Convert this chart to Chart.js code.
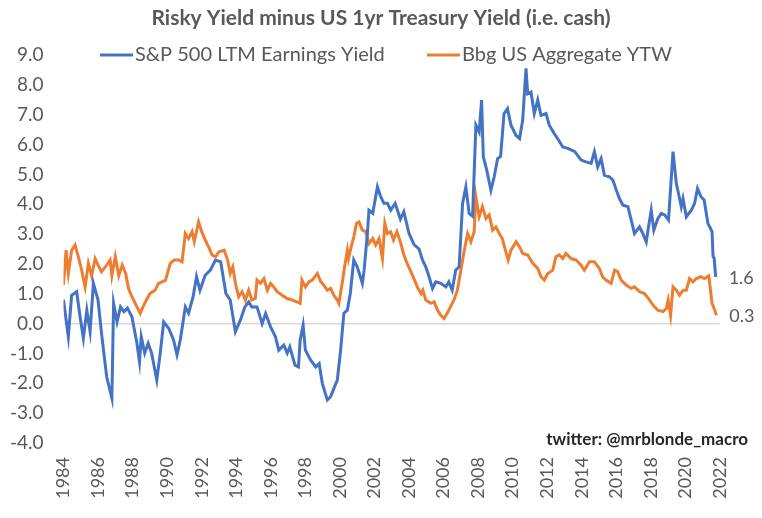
<!DOCTYPE html>
<html lang="en">
<head>
<meta charset="UTF-8">
<title>Risky Yield minus US 1yr Treasury Yield (i.e. cash)</title>
<script src="https://cdn.jsdelivr.net/npm/chart.js"></script>
<style>
  html, body { margin: 0; padding: 0; background: #ffffff; }
  #wrap { width: 762px; height: 518px; }
</style>
</head>
<body>
<div id="wrap"><canvas id="myChart" width="762" height="518"></canvas></div>
<script>
// ---- data ----
var chartTitle = 'Risky Yield minus US 1yr Treasury Yield (i.e. cash)';
var seriesNames = ['S&P 500 LTM Earnings Yield', 'Bbg US Aggregate YTW'];
var creditText = 'twitter: @mrblonde_macro';
var xTickYears = [1984, 1986, 1988, 1990, 1992, 1994, 1996, 1998, 2000, 2002,
                  2004, 2006, 2008, 2010, 2012, 2014, 2016, 2018, 2020, 2022];

// S&P 500 LTM earnings yield minus 1yr treasury (decimal year, value)
var spxDates = [
  1984.00, 1984.28, 1984.47, 1984.76, 1984.96, 1985.15, 1985.35, 1985.54, 1985.73, 1986.00,
  1986.20, 1986.50, 1986.80, 1986.90, 1987.10, 1987.30, 1987.50, 1987.70, 1987.96, 1988.25,
  1988.40, 1988.50, 1988.70, 1988.90, 1989.10, 1989.40, 1989.60, 1989.80, 1990.10, 1990.37,
  1990.57, 1990.76, 1991.05, 1991.24, 1991.50, 1991.70, 1991.90, 1992.20, 1992.50, 1992.80,
  1993.10, 1993.40, 1993.65, 1993.95, 1994.24, 1994.50, 1994.72, 1994.90, 1995.20, 1995.50,
  1995.70, 1995.98, 1996.27, 1996.46, 1996.75, 1996.95, 1997.10, 1997.40, 1997.60, 1997.70,
  1997.87, 1998.00, 1998.30, 1998.60, 1998.80, 1998.98, 1999.27, 1999.46, 1999.65, 1999.85,
  2000.04, 2000.23, 2000.43, 2000.60, 2000.80, 2001.00, 2001.30, 2001.40, 2001.59, 2001.68,
  2001.90, 2002.17, 2002.36, 2002.55, 2002.75, 2002.94, 2003.20, 2003.50, 2003.70, 2004.00,
  2004.29, 2004.58, 2004.78, 2004.97, 2005.16, 2005.36, 2005.55, 2005.84, 2006.13, 2006.30,
  2006.50, 2006.70, 2006.90, 2007.10, 2007.29, 2007.48, 2007.68, 2007.87, 2008.06, 2008.20,
  2008.30, 2008.50, 2008.74, 2008.93, 2009.13, 2009.30, 2009.50, 2009.70, 2009.90, 2010.19,
  2010.40, 2010.58, 2010.77, 2010.87, 2011.06, 2011.25, 2011.45, 2011.64, 2011.93, 2012.12,
  2012.40, 2012.60, 2012.90, 2013.19, 2013.60, 2013.96, 2014.25, 2014.54, 2014.73, 2014.92,
  2015.12, 2015.31, 2015.60, 2015.80, 2016.00, 2016.18, 2016.38, 2016.67, 2016.86, 2017.05,
  2017.34, 2017.53, 2017.73, 2017.86, 2018.02, 2018.17, 2018.40, 2018.60, 2018.80, 2019.02,
  2019.28, 2019.47, 2019.60, 2019.76, 2019.86, 2020.05, 2020.34, 2020.53, 2020.70, 2020.90,
  2021.08, 2021.30, 2021.54, 2021.60, 2021.66, 2021.75
];
var spxValues = [
  0.80, -0.44, 0.95, 1.07, 0.23, -0.49, 0.45, -0.27, 1.35, 0.79,
  -0.32, -1.78, -2.50, 0.68, 0.06, 0.56, 0.40, 0.52, 0.23, -0.66,
  -1.28, -0.44, -0.99, -0.66, -0.99, -1.89, -0.99, 0.06, -0.17, -0.55,
  -1.05, -0.55, 0.56, 0.35, 0.90, 1.57, 1.12, 1.62, 1.79, 2.13,
  2.07, 1.01, 0.79, -0.27, 0.12, 0.56, 0.73, 0.56, 0.56, 0.00,
  0.34, -0.10, -0.44, -0.89, -0.72, -0.99, -0.78, -1.39, -1.45, -0.55,
  -0.05, -0.89, -1.22, -1.45, -1.34, -2.00, -2.56, -2.45, -2.17, -1.89,
  -0.89, 0.35, 0.45, 1.01, 2.13, 1.90, 1.35, 1.79, 3.02, 3.80,
  3.70, 4.58, 4.25, 4.03, 4.03, 3.80, 4.03, 3.50, 3.75, 3.02,
  2.65, 2.50, 2.13, 1.90, 1.57, 1.18, 1.40, 1.35, 1.23, 1.40,
  1.12, 1.79, 1.90, 4.03, 4.58, 3.69, 3.60, 6.65, 6.42, 7.49,
  5.59, 5.14, 4.47, 4.92, 5.53, 5.60, 7.04, 7.20, 6.65, 6.31,
  6.20, 6.82, 8.55, 7.70, 7.76, 7.04, 7.49, 6.98, 7.04, 6.65,
  6.37, 6.20, 5.92, 5.87, 5.76, 5.48, 5.42, 5.37, 5.76, 5.25,
  5.53, 4.97, 4.92, 4.81, 4.47, 4.19, 3.97, 3.92, 3.47, 3.02,
  3.24, 3.02, 2.74, 3.24, 3.80, 3.13, 3.52, 3.69, 3.64, 3.47,
  5.76, 4.70, 4.36, 3.91, 4.19, 3.58, 3.80, 4.03, 4.53, 4.25,
  4.14, 3.36, 3.08, 2.24, 2.20, 1.57
];

// Bbg US Aggregate YTW minus 1yr treasury (decimal year, value)
var aggDates = [
  1984.00, 1984.15, 1984.28, 1984.47, 1984.67, 1984.86, 1985.05, 1985.25, 1985.44, 1985.63,
  1985.83, 1986.00, 1986.20, 1986.50, 1986.70, 1986.80, 1987.00, 1987.20, 1987.40, 1987.60,
  1987.76, 1987.96, 1988.25, 1988.44, 1988.60, 1988.80, 1989.00, 1989.30, 1989.50, 1989.70,
  1989.90, 1990.18, 1990.40, 1990.66, 1990.86, 1991.05, 1991.24, 1991.44, 1991.57, 1991.82,
  1992.00, 1992.20, 1992.40, 1992.60, 1992.80, 1993.00, 1993.30, 1993.50, 1993.65, 1993.80,
  1993.95, 1994.14, 1994.34, 1994.53, 1994.72, 1994.90, 1995.10, 1995.20, 1995.40, 1995.60,
  1995.80, 1995.98, 1996.17, 1996.37, 1996.66, 1996.95, 1997.24, 1997.50, 1997.70, 1997.80,
  1998.00, 1998.20, 1998.40, 1998.69, 1998.90, 1999.07, 1999.27, 1999.46, 1999.65, 1999.85,
  1999.94, 2000.13, 2000.27, 2000.43, 2000.50, 2000.65, 2000.80, 2000.96, 2001.10, 2001.30,
  2001.50, 2001.68, 2001.90, 2002.07, 2002.27, 2002.46, 2002.60, 2002.75, 2002.94, 2003.10,
  2003.30, 2003.50, 2003.70, 2003.90, 2004.10, 2004.29, 2004.50, 2004.70, 2004.80, 2004.97,
  2005.26, 2005.45, 2005.65, 2005.84, 2006.03, 2006.20, 2006.40, 2006.60, 2006.80, 2007.00,
  2007.20, 2007.39, 2007.58, 2007.77, 2007.87, 2008.06, 2008.25, 2008.45, 2008.64, 2008.84,
  2009.03, 2009.22, 2009.40, 2009.60, 2009.74, 2009.90, 2010.20, 2010.40, 2010.58, 2010.87,
  2011.16, 2011.45, 2011.64, 2011.83, 2012.03, 2012.32, 2012.50, 2012.70, 2012.90, 2013.08,
  2013.38, 2013.67, 2013.96, 2014.15, 2014.44, 2014.73, 2015.02, 2015.20, 2015.40, 2015.70,
  2015.90, 2016.08, 2016.28, 2016.57, 2016.86, 2017.05, 2017.34, 2017.63, 2017.86, 2018.12,
  2018.40, 2018.70, 2018.90, 2019.00, 2019.14, 2019.28, 2019.47, 2019.66, 2019.86, 2020.05,
  2020.24, 2020.44, 2020.63, 2020.88, 2021.10, 2021.35, 2021.54, 2021.66, 2021.79
];
var aggValues = [
  1.30, 2.46, 1.68, 2.46, 2.63, 2.24, 1.79, 1.23, 2.02, 1.60,
  2.18, 1.96, 1.74, 1.96, 2.13, 1.60, 2.24, 1.60, 1.96, 1.68,
  1.18, 0.90, 0.56, 0.34, 0.56, 0.79, 1.01, 1.12, 1.35, 1.40,
  1.45, 2.02, 2.13, 2.13, 2.07, 3.02, 2.85, 3.08, 2.74, 3.41,
  3.08, 2.80, 2.57, 2.30, 2.24, 2.41, 2.46, 2.13, 1.68, 1.90,
  1.35, 0.90, 1.07, 0.79, 1.12, 0.79, 0.84, 1.46, 1.35, 1.51,
  1.12, 1.35, 1.23, 1.07, 0.95, 0.84, 0.79, 0.73, 0.68, 1.46,
  1.23, 1.40, 1.46, 1.68, 1.40, 1.29, 1.12, 1.18, 0.95, 0.79,
  0.68, 1.35, 1.90, 2.46, 2.18, 2.57, 2.90, 3.36, 3.41, 3.13,
  3.08, 2.68, 2.85, 2.63, 2.85, 2.18, 3.36, 3.02, 3.08, 2.80,
  3.08, 2.74, 2.30, 2.00, 1.75, 1.50, 1.20, 1.00, 1.12, 0.79,
  0.68, 0.73, 0.45, 0.28, 0.17, 0.34, 0.56, 0.79, 1.12, 1.79,
  2.46, 3.02, 2.74, 3.08, 4.25, 3.58, 3.92, 3.52, 3.64, 3.13,
  3.24, 3.02, 2.85, 2.41, 2.13, 2.46, 2.74, 2.57, 2.35, 2.30,
  2.02, 1.85, 1.57, 1.46, 1.68, 1.79, 2.24, 2.30, 2.18, 2.35,
  2.18, 2.13, 1.96, 1.79, 2.07, 2.07, 1.85, 1.57, 1.46, 1.35,
  1.79, 1.74, 1.46, 1.29, 1.18, 1.23, 1.07, 1.01, 0.84, 0.62,
  0.45, 0.40, 0.51, 0.79, 0.28, 1.23, 1.12, 0.95, 1.12, 1.12,
  1.51, 1.40, 1.51, 1.57, 1.51, 1.60, 0.68, 0.51, 0.28
];

var seriesColors = ['#4472C4', '#ED7D31'];
var textColor = '#595959';
var fontFamily = 'Lato, "Open Sans", sans-serif';

function toPoints(dates, values) {
    var pts = [];
    for (var i = 0; i < dates.length; i++) {
        pts.push({ x: dates[i], y: values[i] });
    }
    return pts;
}

// legend, title, end-value labels and credit drawn over the chart
var overlayPlugin = {
    id: 'overlay',
    afterDraw: function(chart) {
        var ctx = chart.ctx;
        ctx.save();

        // title
        ctx.fillStyle = textColor;
        ctx.font = 'bold 21px ' + fontFamily;
        ctx.textAlign = 'center';
        ctx.textBaseline = 'middle';
        ctx.fillText(chartTitle, 381, 18);

        // legend inside the plot, Excel style
        var legendX = [100, 427];
        ctx.font = '20px ' + fontFamily;
        ctx.textAlign = 'left';
        chart.data.datasets.forEach(function(ds, i) {
            ctx.strokeStyle = ds.borderColor;
            ctx.lineWidth = 3;
            ctx.beginPath();
            ctx.moveTo(legendX[i], 55);
            ctx.lineTo(legendX[i] + 33, 55);
            ctx.stroke();
            ctx.fillStyle = textColor;
            ctx.fillText(ds.label, legendX[i] + 35, 55);
        });

        // last value next to each line end
        ctx.font = '18px ' + fontFamily;
        chart.data.datasets.forEach(function(ds, i) {
            var meta = chart.getDatasetMeta(i);
            var last = meta.data[meta.data.length - 1];
            var v = ds.data[ds.data.length - 1].y;
            ctx.fillText(v.toFixed(1), last.x + 13, last.y + 1);
        });

        // credit
        ctx.fillStyle = '#262626';
        ctx.font = 'bold 17px ' + fontFamily;
        ctx.textAlign = 'right';
        ctx.fillText(creditText, 748, 440);

        ctx.restore();
    }
};

function createChart() {
    var ctx = document.getElementById('myChart').getContext('2d');
    return new Chart(ctx, {
        type: 'line',
        data: {
            datasets: [{
                label: seriesNames[0],
                data: toPoints(spxDates, spxValues),
                borderColor: seriesColors[0],
                backgroundColor: seriesColors[0],
                borderWidth: 3,
                pointRadius: 0,
                tension: 0
            }, {
                label: seriesNames[1],
                data: toPoints(aggDates, aggValues),
                borderColor: seriesColors[1],
                backgroundColor: seriesColors[1],
                borderWidth: 3,
                pointRadius: 0,
                tension: 0
            }]
        },
        options: {
            responsive: false,
            animation: false,
            layout: { padding: { left: 10, right: 42, top: 55, bottom: 0 } },
            plugins: {
                legend: { display: false },
                tooltip: { enabled: false },
                title: { display: false }
            },
            scales: {
                x: {
                    type: 'linear',
                    min: 1984,
                    max: 2022,
                    afterBuildTicks: function(scale) {
                        scale.ticks = xTickYears.map(function(v) { return { value: v }; });
                    },
                    afterFit: function(scale) { scale.height = 75; },
                    ticks: {
                        minRotation: 90,
                        maxRotation: 90,
                        autoSkip: false,
                        padding: 14,
                        color: textColor,
                        font: { family: fontFamily, size: 18 },
                        callback: function(v) { return String(v); }
                    },
                    grid: { display: false, drawTicks: false },
                    border: { display: false }
                },
                y: {
                    min: -4,
                    max: 9,
                    afterFit: function(scale) { scale.width = 53.5; },
                    ticks: {
                        stepSize: 1,
                        padding: 20,
                        color: textColor,
                        font: { family: fontFamily, size: 19 },
                        callback: function(v) { return v.toFixed(1); }
                    },
                    grid: {
                        drawTicks: false,
                        lineWidth: 1.5,
                        color: function(c) {
                            return c.tick && c.tick.value === 0 ? '#d9d9d9' : 'rgba(0,0,0,0)';
                        }
                    },
                    border: { display: false }
                }
            }
        },
        plugins: [overlayPlugin]
    });
}

createChart();
</script>
</body>
</html>
